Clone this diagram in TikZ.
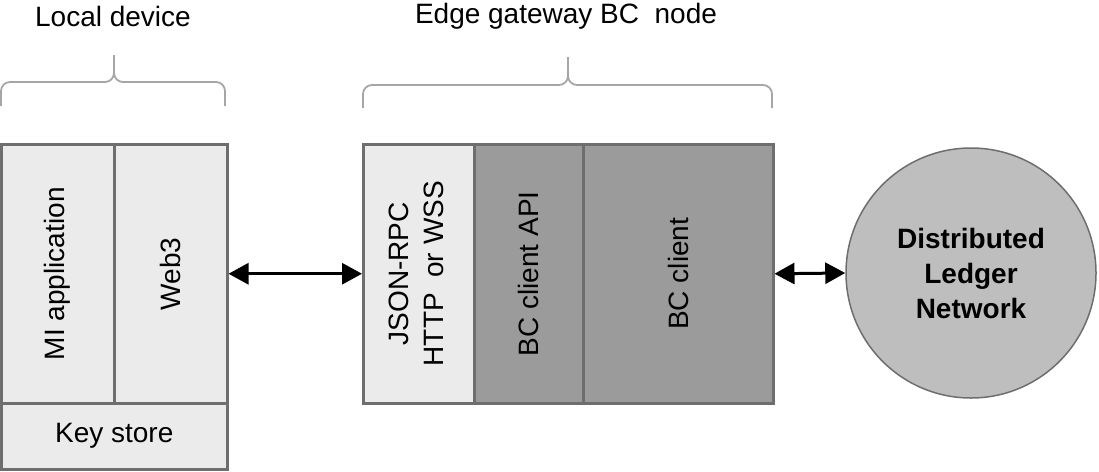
\documentclass[tikz,border=0pt]{standalone}
\usepackage{fontspec}
\setmainfont{Liberation Sans}
\usetikzlibrary{arrows.meta}

\definecolor{lightcell}{HTML}{EBEBEB}
\definecolor{darkcell}{HTML}{9B9B9B}
\definecolor{netfill}{HTML}{BEBEBE}
\definecolor{edgegray}{HTML}{6E6E6E}
\definecolor{bracegray}{HTML}{A6A6A6}

\tikzset{
  cell/.style={draw=edgegray, line width=2.5pt, anchor=north west, inner sep=0pt,
    minimum height=259pt, font=\fontsize{28}{35}\selectfont},
  biarrow/.style={line width=3pt, {Triangle[length=20pt,width=21pt]}-{Triangle[length=20pt,width=21pt]}},
  bracket/.style={draw=bracegray, line width=1.8pt, rounded corners=9pt},
  title/.style={font=\fontsize{28}{35}\selectfont}
}

\begin{document}
\begin{tikzpicture}[x=1pt,y=-1pt]
\useasboundingbox (0,0) rectangle (1099,471);
\node[title] (localtitle) at (113,16) {Local device};
\node[title] (edgetitle) at (566,16) {Edge gateway BC\ \ node};
\draw[bracket] (1,106) -- (1,82) -- (114,82) -- (114,55);
\draw[bracket] (225,106) -- (225,82) -- (114,82) -- (114,55);
\draw[bracket] (363,108) -- (363,85) -- (568,85) -- (568,57);
\draw[bracket] (772,108) -- (772,85) -- (568,85) -- (568,57);
% local device
\node[cell, fill=lightcell, minimum width=113pt] (mi) at (0,143) {\rotatebox{90}{MI application}};
\node[cell, fill=lightcell, minimum width=113pt] (web3) at (113,143) {\rotatebox{90}{Web3}};
\node[cell, fill=lightcell, minimum width=226pt, minimum height=66pt] (keystore) at (0,402) {Key store};
% edge gateway
\node[cell, fill=lightcell, minimum width=111pt] (jsonrpc) at (362,143)
  {\rotatebox{90}{\begin{tabular}{@{}c@{}}JSON-RPC\\HTTP\ \ or WSS\end{tabular}}};
\node[cell, fill=darkcell, minimum width=109pt] (clientapi) at (473,143) {\rotatebox{90}{BC client API}};
\node[cell, fill=darkcell, minimum width=190pt] (bcclient) at (582,143) {\rotatebox{90}{BC client}};
% network
\node[circle, draw=edgegray, line width=1.5pt, fill=netfill, minimum size=250pt, inner sep=0pt,
  align=center, font=\fontsize{28}{35}\selectfont\bfseries] (ledger) at (971,273)
  {Distributed\\Ledger\\Network};
\draw[biarrow] (web3.east) -- (jsonrpc.west);
\draw[biarrow] (bcclient.east) -- (ledger.west);
\end{tikzpicture}
\end{document}
